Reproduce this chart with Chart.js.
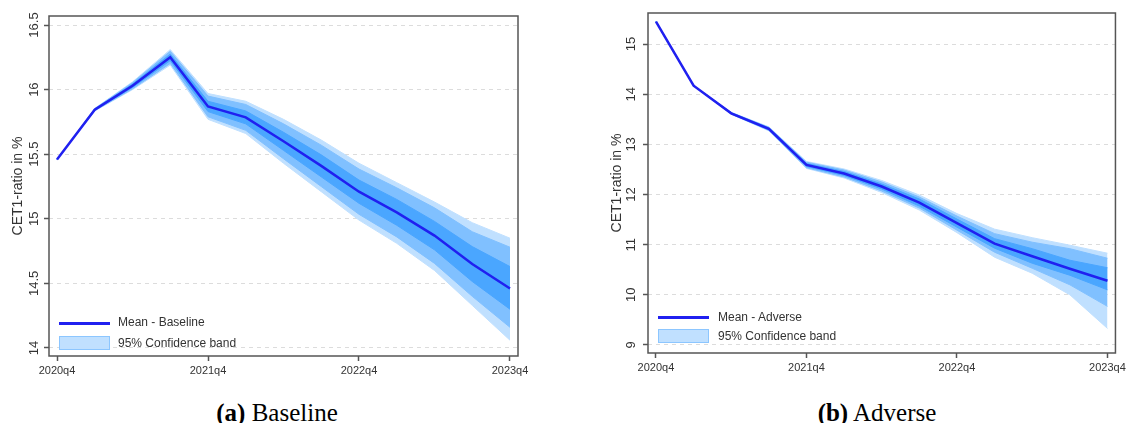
<!DOCTYPE html>
<html>
<head>
<meta charset="utf-8">
<script src="https://cdn.jsdelivr.net/npm/chart.js@4.4.1/dist/chart.umd.min.js"></script>
<style>
  html, body { margin: 0; padding: 0; background: #fff; }
  body { width: 1129px; height: 423px; position: relative; overflow: hidden;
         font-family: "Liberation Sans", Arial, sans-serif; }
  .wrap { position: absolute; top: 0; }
  #wrapA { left: 0; width: 540px; height: 380px; }
  #wrapB { left: 600px; width: 529px; height: 380px; }
  .lg-line { position: absolute; width: 51px; height: 2.5px; background: #2020f0; }
  .lg-box  { position: absolute; width: 49px; height: 12px; background: #c0e0ff; border: 1px solid #8cc6ff; }
  .lg-text { position: absolute; font-size: 12px; line-height: 14px; color: #333; white-space: nowrap; }
  .caption { position: absolute; top: 400px; font-family: "Liberation Serif", "Times New Roman", serif;
             font-size: 25px; line-height: 25px; color: #000; transform: translateX(-50%); white-space: nowrap; }
</style>
</head>
<body>
<div class="wrap" id="wrapA"><canvas id="chartA" width="540" height="380"></canvas></div>
<div class="wrap" id="wrapB"><canvas id="chartB" width="529" height="380"></canvas></div>

<!-- legends (inside plot areas) -->
<div class="lg-line" style="left:59px; top:322px;"></div>
<div class="lg-text" style="left:118px; top:315px;">Mean - Baseline</div>
<div class="lg-box"  style="left:59px; top:336px;"></div>
<div class="lg-text" style="left:118px; top:336px;">95% Confidence band</div>

<div class="lg-line" style="left:658px; top:316px;"></div>
<div class="lg-text" style="left:718px; top:310px;">Mean - Adverse</div>
<div class="lg-box"  style="left:658px; top:329px;"></div>
<div class="lg-text" style="left:718px; top:329px;">95% Confidence band</div>

<div class="caption" style="left:277px;"><b>(a)</b> Baseline</div>
<div class="caption" style="left:877px;"><b>(b)</b> Adverse</div>

<script>
/* CET1 ratio projections — baseline vs adverse, fan charts */

const QUARTERS = ['2020q4','2021q1','2021q2','2021q3','2021q4','2022q1','2022q2','2022q3','2022q4','2023q1','2023q2','2023q3','2023q4'];
const X_TICKS  = [0, 4, 8, 12];

// Baseline
const baseMean    = [15.46, 15.845, 16.03, 16.25, 15.87, 15.785, 15.60, 15.41, 15.21, 15.05, 14.87, 14.65, 14.46];
const baseOuterHi = [15.46, 15.855, 16.06, 16.31, 15.97, 15.91, 15.77, 15.61, 15.43, 15.28, 15.13, 14.97, 14.85];
const baseOuterLo = [15.46, 15.835, 16.00, 16.19, 15.77, 15.66, 15.43, 15.21, 14.99, 14.81, 14.60, 14.33, 14.06];
const baseMidHi   = [15.46, 15.853, 16.054, 16.297, 15.95, 15.885, 15.735, 15.57, 15.385, 15.24, 15.085, 14.90, 14.78];
const baseMidLo   = [15.46, 15.837, 16.006, 16.203, 15.79, 15.685, 15.465, 15.25, 15.035, 14.86, 14.655, 14.40, 14.16];
const baseInnerHi = [15.46, 15.849, 16.043, 16.275, 15.91, 15.835, 15.67, 15.495, 15.30, 15.15, 14.98, 14.785, 14.63];
const baseInnerLo = [15.46, 15.841, 16.017, 16.225, 15.83, 15.735, 15.53, 15.325, 15.12, 14.95, 14.76, 14.515, 14.30];
const baseYTicks  = [14, 14.5, 15, 15.5, 16, 16.5];

// Adverse
const advMean    = [15.45, 14.17, 13.62, 13.31, 12.59, 12.42, 12.16, 11.84, 11.43, 11.02, 10.77, 10.52, 10.28];
const advOuterHi = [15.45, 14.17, 13.64, 13.35, 12.66, 12.51, 12.28, 11.99, 11.62, 11.31, 11.14, 10.99, 10.83];
const advOuterLo = [15.45, 14.17, 13.60, 13.27, 12.52, 12.33, 12.04, 11.69, 11.24, 10.75, 10.43, 10.00, 9.33];
const advMidHi   = [15.45, 14.17, 13.635, 13.34, 12.645, 12.49, 12.25, 11.95, 11.57, 11.22, 11.05, 10.92, 10.73];
const advMidLo   = [15.45, 14.17, 13.605, 13.28, 12.535, 12.35, 12.07, 11.73, 11.29, 10.85, 10.53, 10.20, 9.77];
const advInnerHi = [15.45, 14.17, 13.63, 13.33, 12.62, 12.46, 12.21, 11.91, 11.51, 11.12, 10.92, 10.69, 10.54];
const advInnerLo = [15.45, 14.17, 13.61, 13.29, 12.56, 12.38, 12.11, 11.77, 11.35, 10.93, 10.63, 10.39, 10.10];
const advYTicks  = [9, 10, 11, 12, 13, 14, 15];

const FONT   = '"Liberation Sans", Arial, sans-serif';
const C_OUT  = '#c0e0ff';
const C_MID  = '#80c0ff';
const C_IN   = '#4aa6ff';
const C_MEAN = '#2020f0';

const pts = arr => arr.map((y, i) => ({ x: i, y }));

function band(hi, lo, color, order) {
  return [
    { data: pts(hi), fill: '+1', backgroundColor: color, borderColor: color, borderWidth: 1, pointRadius: 0, order },
    { data: pts(lo), fill: false, borderColor: color, borderWidth: 1, pointRadius: 0, order },
  ];
}

const framePlugin = {
  id: 'frame',
  afterDatasetsDraw(chart) {
    const { ctx, chartArea: a } = chart;
    ctx.save();
    ctx.strokeStyle = '#555';
    ctx.lineWidth = 1.5;
    ctx.strokeRect(a.left, a.top, a.right - a.left, a.bottom - a.top);
    ctx.restore();
  },
};

function makePanel(id, s) {
  return new Chart(document.getElementById(id), {
    type: 'line',
    data: {
      datasets: [
        ...band(s.outerHi, s.outerLo, C_OUT, 3),
        ...band(s.midHi, s.midLo, C_MID, 2),
        ...band(s.innerHi, s.innerLo, C_IN, 1),
        { data: pts(s.mean), borderColor: C_MEAN, borderWidth: 2.5, pointRadius: 0, fill: false, order: 0 },
      ],
    },
    options: {
      responsive: false,
      animation: false,
      events: [],
      layout: { padding: s.pad },
      plugins: { legend: { display: false }, tooltip: { enabled: false } },
      scales: {
        x: {
          type: 'linear', min: -0.212, max: 12.212,
          afterBuildTicks: sc => { sc.ticks = X_TICKS.map(v => ({ value: v })); },
          afterFit: sc => { sc.height = s.xHeight; },
          ticks: { callback: v => QUARTERS[v], font: { size: 11, family: FONT }, color: '#333', padding: 3, maxRotation: 0, autoSkip: false },
          grid: { drawOnChartArea: false, tickLength: 5, tickColor: '#555', tickWidth: 1.5 },
          border: { display: false },
        },
        y: {
          min: s.yMin, max: s.yMax,
          afterBuildTicks: sc => { sc.ticks = s.yTicks.map(v => ({ value: v })); },
          afterFit: sc => { sc.width = s.yWidth; },
          ticks: { callback: v => String(v), minRotation: 90, maxRotation: 90, crossAlign: 'center',
                   padding: s.yTickPad, font: { size: 13, family: FONT }, color: '#333' },
          grid: { color: '#dcdcdc', lineWidth: 1, tickLength: 5, tickColor: '#555', tickWidth: 1.5 },
          border: { display: false, dash: [4, 4] },
          title: { display: true, text: 'CET1-ratio in %', color: '#333', font: { size: 14, family: FONT },
                   padding: { top: s.titlePad, bottom: 0 } },
        },
      },
    },
    plugins: [framePlugin],
  });
}

makePanel('chartA', {
  mean: baseMean, outerHi: baseOuterHi, outerLo: baseOuterLo, midHi: baseMidHi, midLo: baseMidLo,
  innerHi: baseInnerHi, innerLo: baseInnerLo, yTicks: baseYTicks,
  yMin: 13.938, yMax: 16.57, pad: { left: 0, top: 16, right: 22, bottom: 0 },
  xHeight: 24, yWidth: 49, yTickPad: -3, titlePad: 10,
});

makePanel('chartB', {
  mean: advMean, outerHi: advOuterHi, outerLo: advOuterLo, midHi: advMidHi, midLo: advMidLo,
  innerHi: advInnerHi, innerLo: advInnerLo, yTicks: advYTicks,
  yMin: 8.84, yMax: 15.62, pad: { left: 0, top: 13, right: 10, bottom: 0 },
  xHeight: 27, yWidth: 48, yTickPad: 4, titlePad: 9,
});
</script>
</body>
</html>
